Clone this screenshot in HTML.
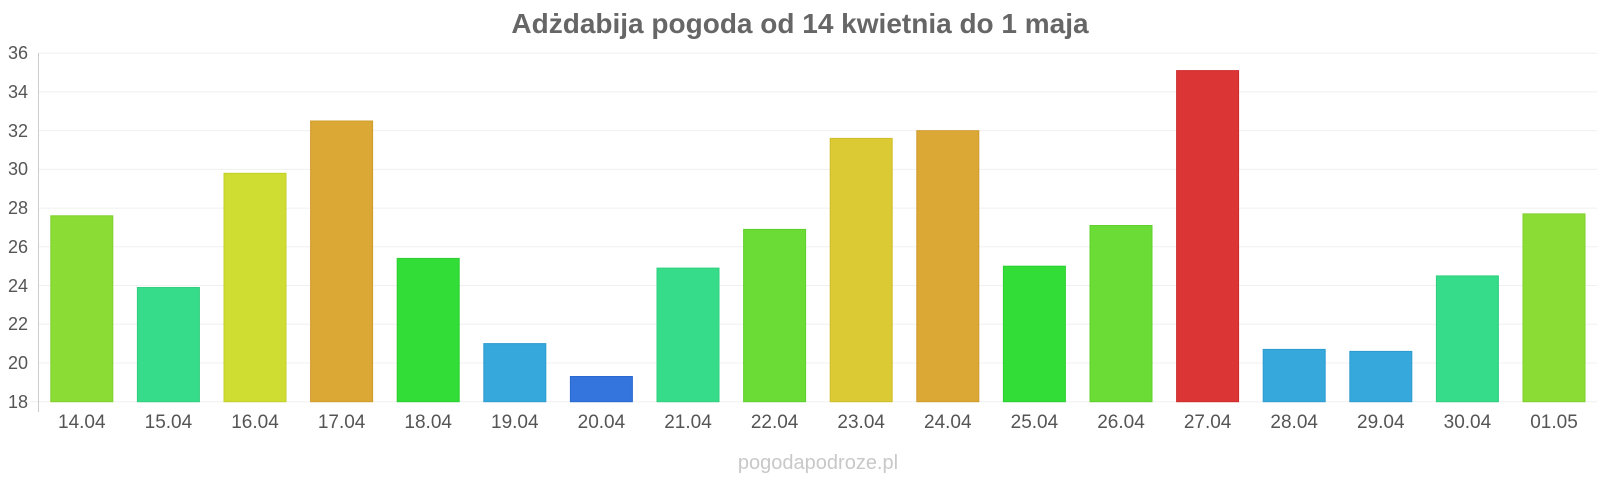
<!DOCTYPE html>
<html><head><meta charset="utf-8"><style>
html,body{margin:0;padding:0;background:#fff;}
svg{display:block;font-family:"Liberation Sans",sans-serif;}
</style></head><body>
<svg width="1600" height="480" viewBox="0 0 1600 480">
<text x="800" y="33" text-anchor="middle" font-size="28" font-weight="bold" fill="#666">Adżdabija pogoda od 14 kwietnia do 1 maja</text>
<g stroke="#f0f0f0" stroke-width="1">
<line x1="38" x2="1597" y1="53.2" y2="53.2"/><line x1="38" x2="1597" y1="91.9" y2="91.9"/><line x1="38" x2="1597" y1="130.6" y2="130.6"/><line x1="38" x2="1597" y1="169.4" y2="169.4"/><line x1="38" x2="1597" y1="208.1" y2="208.1"/><line x1="38" x2="1597" y1="246.8" y2="246.8"/><line x1="38" x2="1597" y1="285.5" y2="285.5"/><line x1="38" x2="1597" y1="324.2" y2="324.2"/><line x1="38" x2="1597" y1="363" y2="363"/><line x1="30" x2="1597" y1="401.7" y2="401.7"/>
</g>
<line x1="38.5" x2="38.5" y1="53" y2="412" stroke="#ccc"/>
<g font-size="18" fill="#555" text-anchor="end">
<text x="28" y="59">36</text><text x="28" y="98">34</text><text x="28" y="137">32</text><text x="28" y="175">30</text><text x="28" y="214">28</text><text x="28" y="253">26</text><text x="28" y="292">24</text><text x="28" y="330">22</text><text x="28" y="369">20</text><text x="28" y="408">18</text>
</g>
<g stroke-width="1">
<rect x="50.8" y="215.8" width="62" height="185.9" fill="#8bdc35" stroke="#7fcf2c"/>
<rect x="137.4" y="287.5" width="62" height="114.2" fill="#36dc8a" stroke="#2ecf7e"/>
<rect x="224" y="173.3" width="62" height="228.4" fill="#cfdd32" stroke="#c2cf2a"/>
<rect x="310.6" y="121" width="62" height="280.7" fill="#dca835" stroke="#cf9b2c"/>
<rect x="397.2" y="258.4" width="62" height="143.3" fill="#33dd38" stroke="#2bcf30"/>
<rect x="483.8" y="343.6" width="62" height="58.1" fill="#36a8dc" stroke="#2e9bcf"/>
<rect x="570.4" y="376.5" width="62" height="25.2" fill="#3375dc" stroke="#2b68cf"/>
<rect x="657" y="268.1" width="62" height="133.6" fill="#36dc8a" stroke="#2ecf7e"/>
<rect x="743.6" y="229.4" width="62" height="172.3" fill="#6bdc35" stroke="#60cf2c"/>
<rect x="830.2" y="138.4" width="62" height="263.3" fill="#dbca33" stroke="#cfbd2b"/>
<rect x="916.8" y="130.7" width="62" height="271" fill="#dca835" stroke="#cf9b2c"/>
<rect x="1003.4" y="266.2" width="62" height="135.5" fill="#33dd38" stroke="#2bcf30"/>
<rect x="1090" y="225.5" width="62" height="176.2" fill="#6bdc35" stroke="#60cf2c"/>
<rect x="1176.6" y="70.6" width="62" height="331.1" fill="#dc3535" stroke="#cf2c2c"/>
<rect x="1263.2" y="349.4" width="62" height="52.3" fill="#36a8dc" stroke="#2e9bcf"/>
<rect x="1349.8" y="351.4" width="62" height="50.3" fill="#36a8dc" stroke="#2e9bcf"/>
<rect x="1436.4" y="275.9" width="62" height="125.8" fill="#36dc8a" stroke="#2ecf7e"/>
<rect x="1523" y="213.9" width="62" height="187.8" fill="#8bdc35" stroke="#7fcf2c"/>
</g>
<g font-size="19" fill="#555" text-anchor="middle">
<text x="81.8" y="428">14.04</text><text x="168.4" y="428">15.04</text><text x="255" y="428">16.04</text><text x="341.6" y="428">17.04</text><text x="428.2" y="428">18.04</text><text x="514.8" y="428">19.04</text><text x="601.4" y="428">20.04</text><text x="688" y="428">21.04</text><text x="774.6" y="428">22.04</text><text x="861.2" y="428">23.04</text><text x="947.8" y="428">24.04</text><text x="1034.4" y="428">25.04</text><text x="1121" y="428">26.04</text><text x="1207.6" y="428">27.04</text><text x="1294.2" y="428">28.04</text><text x="1380.8" y="428">29.04</text><text x="1467.4" y="428">30.04</text><text x="1554" y="428">01.05</text>
</g>
<text x="818" y="469" text-anchor="middle" font-size="20" fill="#c8c8c8">pogodapodroze.pl</text>
</svg>
</body></html>
